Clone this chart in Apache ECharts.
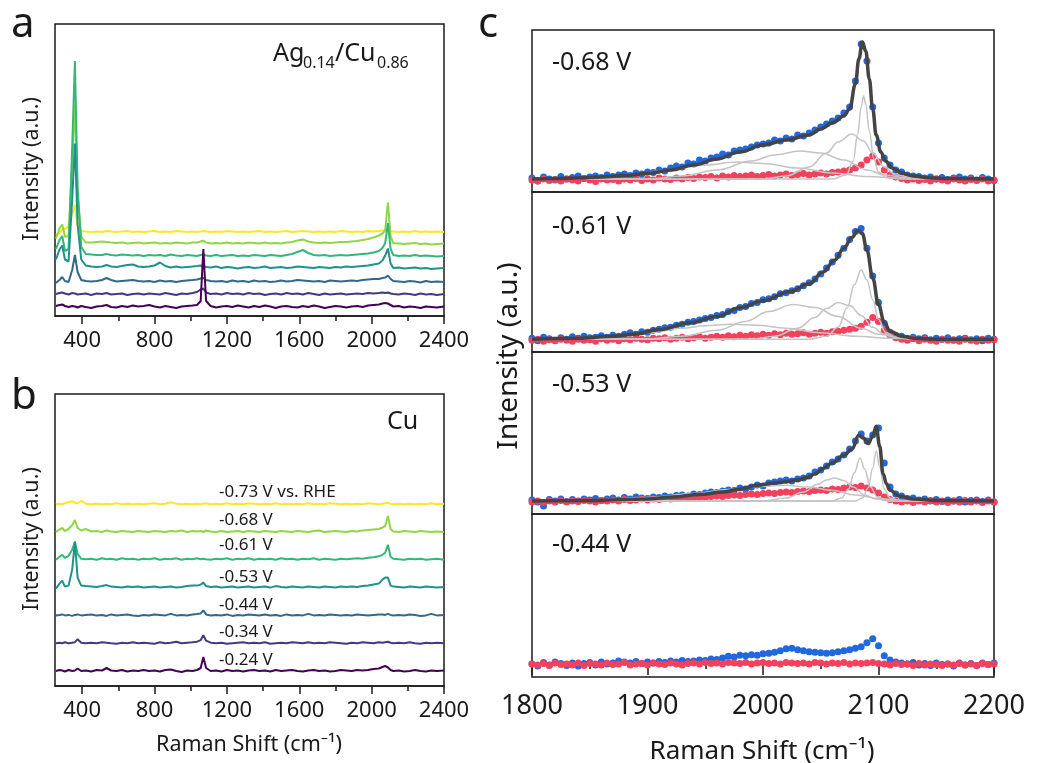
<!DOCTYPE html>
<html>
<head>
<meta charset="utf-8">
<script src="https://cdn.jsdelivr.net/npm/echarts@6/dist/echarts.min.js"></script>
<style>
  html, body { margin: 0; padding: 0; background: #fff; }
  #main { width: 1038px; height: 763px; }
</style>
</head>
<body>
<div id="main"></div>
<script>
// ---- panels a & b: shared Raman shift sampling (cm-1) ----
const xsAB = [
  255, 275, 290, 305, 325, 345, 360, 375, 395, 420,
  450, 480, 510, 535, 560, 590, 620, 650, 680, 710,
  740, 770, 800, 830, 860, 890, 920, 950, 980, 1010,
  1035, 1055, 1070, 1085, 1110, 1140, 1170, 1200, 1230, 1260,
  1290, 1320, 1350, 1380, 1410, 1440, 1470, 1500, 1530, 1560,
  1590, 1620, 1650, 1680, 1710, 1740, 1770, 1800, 1830, 1860,
  1890, 1920, 1950, 1980, 2010, 2040, 2060, 2075, 2090, 2105,
  2120, 2150, 2180, 2210, 2240, 2270, 2300, 2330, 2360, 2400
];
const majorTicksAB = [400, 800, 1200, 1600, 2000, 2400];
const minorTicksAB = [600, 1000, 1400, 1800, 2200];

// potentials, bottom trace first
const potentials = ['-0.24 V', '-0.34 V', '-0.44 V', '-0.53 V', '-0.61 V', '-0.68 V', '-0.73 V vs. RHE'];

// panel a: Ag0.14/Cu0.86 (intensity above each trace's own baseline)
const aV024 = [
  1, 2, 2.5, 1, 0, 1, 0.5, -0.5, 1, 0,
  -1, 0.5, 1, 2, 0, -0.5, 1, 0, 1.5, 0.5,
  1, 2, 0.5, -0.5, 1, 0, -1, 0.5, 1, 1.5,
  2, 6, 58, 6, 1, -0.5, 0.5, 1, 0, 1.5,
  0.5, -0.5, 1, 0, 1.5, 0.5, -1, 0.5, 1, 0,
  -0.5, 1, 0, 1.5, 0.5, -1, 0, 1, 0.5, -0.5,
  0.5, 1, 0, 1.5, 2, 2.5, 3.5, 4, 3.5, 2,
  0.5, 1, -0.5, 0.5, 0, -1, 0.5, 0, -0.5, 0.5
];
const aV034 = [
  0.5, 1.5, 2, 1, 0, 1.5, 1, 0, 0.5, 1,
  -0.5, 1, 0.5, 1.5, 0, 0.5, 1, -0.5, 0.5, 1,
  0, 1, 0.5, 0, 1.5, 0.5, -0.5, 1, 0.5, 1.5,
  2.5, 5, 6, 2, 0.5, 1, 0, 1.5, 0.5, 1,
  0, 1.5, 0.5, 1, -0.5, 0.5, 1, 0, 1.5, 0.5,
  1, 0, 1.5, 0.5, -0.5, 1, 0, 0.5, 1, 0,
  0.5, 1, 0.5, 1.5, 1, 1.5, 2, 1.5, 2, 1,
  0.5, 0, 1, 0.5, -0.5, 1, 0, 0.5, -0.5, 0.5
];
const aV044 = [
  -1, 2, 5, 1, 0, 12, 27, 10, 2, 1,
  0.5, 1, 2, 4, 2, 0.5, 1, 1.5, 2, 1,
  0.5, 1, 0, 1.5, 0.5, 1, 0, 1, 1.5, 2,
  2.5, 3.5, 4, 2, 1, 0.5, 1, 0, 1.5, 0.5,
  1, 0, 1.5, 0.5, 1, 0, 0.5, 1.5, 0.5, 1,
  2, 1.5, 1, 0.5, 1, 0, 1.5, 1, 0.5, 1,
  1.5, 1, 2, 2.5, 3, 3, 4, 4.5, 6.5, 3,
  1, 0.5, 0, 1, 0.5, -0.5, 1, 0, 0.5, 0
];
const aV053 = [
  10, 20, 24, 10, 8, 70, 126, 45, 10, 4,
  3, 2.5, 3, 4.5, 3, 2.5, 3.5, 4.5, 5, 3,
  2.5, 3, 4, 7, 3.5, 2, 3, 2, 2.5, 3,
  3.5, 4, 3.5, 2.5, 2, 3, 1.5, 2.5, 2, 1,
  2, 2.5, 1.5, 2, 3, 1.5, 2, 2.5, 1.5, 2,
  3, 2.5, 2, 1.5, 2.5, 2, 1.5, 2.5, 2, 3,
  2.5, 3, 3.5, 4, 5, 6, 9, 14, 21, 6,
  1.5, 2, 1, 1.5, 2, 1, 1.5, 0.5, 1, 1.5
];
const aV061 = [
  8, 17, 21, 6, 8, 110, 196, 70, 10, 3,
  2.5, 2, 2, 3, 2, 1.5, 2.5, 2, 1.5, 2,
  1, 2, 1.5, 2, 1, 2.5, 1.5, 1, 2, 1.5,
  1, 2, 2.5, 1.5, 1, 2, 1, 1.5, 2, 1,
  1.5, 1, 2, 1.5, 1, 2, 1.5, 1, 2, 3,
  5, 7, 4, 2, 1.5, 2, 1, 1.5, 2, 1.5,
  2, 2.5, 3, 3.5, 4.5, 6, 9, 14, 34, 8,
  2, 1, 1.5, 1, 2, 1, 1.5, 1, 0.5, 1
];
const aV068 = [
  6, 16, 20, 8, 8, 80, 140, 50, 8, 2,
  2, 2.5, 3, 2.5, 2, 1.5, 2, 1, 1.5, 2,
  1, 1.5, 2, 1, 1.5, 1, 2, 1.5, 1, 2,
  2, 3, 4, 2, 1, 1.5, 1, 2, 1, 1.5,
  1, 2, 1.5, 1, 2, 1, 1.5, 1, 2, 2.5,
  4, 5, 3, 2, 1.5, 2, 1.5, 2, 2.5, 2.5,
  3, 3.5, 4.5, 5.5, 7, 9, 11, 14, 42, 8,
  1.5, 1, 0.5, 1, 1.5, 0.5, 1, 0, 0.5, 1
];
const aV073 = [
  -3, -1, 2, 3, 6, 18, 27, 6, 1, 0.5,
  0, 0.5, 0, 1, 0.5, 0, 0.5, 1, 0, 0.5,
  0, 0.5, 1, 0, 0.5, 0, 1, 0.5, 0, 0.5,
  0, 0.5, 1, 0.5, 0, 0.5, 0, 1, 0.5, 0,
  0.5, 0, 0.5, 1, 0, 0.5, 0, 0.5, 1, 0,
  0.5, 1, 0.5, 0, 0.5, 0, 0.5, 0, 1, 0.5,
  0, 0.5, 0, 1, 0.5, 1, 1.5, 2, 2.5, 1,
  0.5, 0, 0.5, 0, 1, 0, 0.5, 0, 0.5, 0
];

// panel b: Cu
const bV024 = [
  0, 1, 0.5, -0.5, 1, 0, 0.5, 2.5, 0, 0.5,
  -0.5, 1, 0.5, 3, 0.5, 0, 1, -0.5, 0.5, 0,
  1, 0, 0.5, -0.5, 1, 1.5, 0, -1, 0.5, 0,
  1, 3, 14, 3, 0, 0.5, -0.5, 1, 0, 0.5,
  -0.5, 0.5, 1, 0, 0.5, -0.5, 1, 0, 0.5, 1,
  0, -0.5, 0.5, 1, 0, 0.5, -0.5, 0, 1, 0.5,
  0, 1, 0.5, 1, 2, 2.5, 4, 5, 3.5, 1,
  0, 0.5, -0.5, 0, 1, 0, -0.5, 0.5, 0, 0.5
];
const bV034 = [
  0, 0.5, 0, 1, 0, 0.5, 1, 4, 0.5, 0,
  0.5, 0, 1, 0.5, 0, -0.5, 0.5, 0, 1, 0,
  0.5, 0, -0.5, 1, 0, 0.5, 1.5, 0, 0.5, 1,
  1.5, 3, 8, 2.5, 0.5, 0, 0.5, -0.5, 0, 0.5,
  1, 0, 0.5, 0, 1, -0.5, 0, 0.5, 0, 1,
  0.5, 0, 1, 0, 0.5, 0, 1, 0.5, 0, -0.5,
  0.5, 0, 1, 0.5, 0, 1, 0.5, 1, 1.5, 0.5,
  0, 0.5, 0, 1, 0, -0.5, 0.5, 0, 0.5, 0
];
const bV044 = [
  0, 0.5, 1, 0, 0.5, -0.5, 0.5, 1, 0, 0.5,
  1, 0, 0.5, -0.5, 1, 0, 0.5, 1, 0, -0.5,
  0.5, 0, 1, 0.5, 0, 1.5, 0, 0.5, 0, 1,
  1.5, 2, 5, 1, 0, 0.5, 0, 1, -0.5, 0.5,
  0, 1, 0.5, 0, 1, 0, 0.5, -0.5, 1, 0,
  0.5, 0, 1.5, 0, 0.5, 0, 1, 0.5, 0, 0.5,
  0, 1, 0.5, 0, 0.5, 1, 1, 0.5, 1.5, 0.5,
  0, 0.5, 0, 1, 0.5, -0.5, 0, 1.5, 0, 0.5
];
const bV053 = [
  -1, 4, 7, 1, 2, 18, 46, 10, 2, 1.5,
  1, 0.5, 1.5, 2.5, 1, 0.5, 0, 1, 0.5, 1,
  0, 0.5, 1, 0, 0.5, 1, 0, 0.5, 1.5, 2,
  2, 3, 5, 1.5, 0.5, 1, 0, 0.5, 1, 0,
  0.5, 1, 0, 0.5, 1, 0, 1.5, 0.5, 0, 1,
  0.5, 0, 1, 0.5, 0, 1, 0.5, 0, 1, 0.5,
  1, 0.5, 1.5, 2, 3, 4, 8, 10, 10, 2,
  1, 0.5, 0, 1, 0.5, 0, 1, 0.5, 0, 0.5
];
const bV061 = [
  0, 3, 5, 2, 4, 10, 18, 6, 1, 0.5,
  1, 0, 1.5, 0.5, 1, 0, 1.5, 0.5, 1, 0,
  1, 0.5, 1.5, 0, 1, 0.5, 1.5, 0, 1, 0.5,
  1.5, 0.5, 1, 0.5, 0, 1, 0.5, 1.5, 0, 1,
  0.5, 1.5, 0, 1, 0.5, 1, 0, 1.5, 0.5, 1,
  0, 1, 0.5, 1.5, 0, 1, 0.5, 0, 1, 0.5,
  1, 1.5, 1, 2, 2.5, 3.5, 5, 7, 15, 3,
  1, 0.5, 0, 1, 0.5, 1, 0, 0.5, 1, 0
];
const bV068 = [
  0, 2.5, 4, 1, 3, 7, 12, 4, 1.5, 3,
  0.5, 1, 0, 1.5, 0.5, 0, 1, 0.5, 0, 1,
  0.5, 0, 1, 0.5, 0, 1, 0.5, 1.5, 0, 1,
  0.5, 1, 0, 1.5, 0.5, 0, 1, 0, 0.5, 1,
  0, 1, 0.5, 0, 1, 0.5, 0, 1, 0.5, 0,
  1, 0.5, 0, 1, 1.5, 0, 0.5, 1, 0.5, 0,
  1, 0.5, 1.5, 2, 2.5, 3, 4.5, 6, 16, 3,
  0.5, 0, 1, 0.5, 0, 1, 0.5, 0, 0.5, 0
];
const bV073 = [
  0, 0.5, 0, 1, 2, 3, 1.5, 1, 3.5, 0.5,
  0, 0.5, 0, 0.5, 0, 1, 0, 0.5, 0, 0.5,
  0, 0.5, 1, 0, 0.5, 2, 0.5, 0, 0.5, 0,
  0.5, 0, 0.5, 1, 0, 0.5, 0, 1, 0, 0.5,
  0, 1, 0.5, 0, 0.5, 0, 1, 0, 0.5, 0,
  0.5, 0, 1, 0, 0.5, 0, 1, 0.5, 0, 0.5,
  0, 0.5, 0, 1, 0.5, 0, 0.5, 1, 1.5, 0.5,
  0, 0.5, 0, 0.5, 0, 0.5, 0, 1, 0, 0.5
];

// ---- panel c: 1800-2200 cm-1, step 5 ----
const xsC = [
  1800, 1805, 1810, 1815, 1820, 1825, 1830, 1835, 1840, 1845,
  1850, 1855, 1860, 1865, 1870, 1875, 1880, 1885, 1890, 1895,
  1900, 1905, 1910, 1915, 1920, 1925, 1930, 1935, 1940, 1945,
  1950, 1955, 1960, 1965, 1970, 1975, 1980, 1985, 1990, 1995,
  2000, 2005, 2010, 2015, 2020, 2025, 2030, 2035, 2040, 2045,
  2050, 2055, 2060, 2065, 2070, 2075, 2080, 2085, 2090, 2095,
  2100, 2105, 2110, 2115, 2120, 2125, 2130, 2135, 2140, 2145,
  2150, 2155, 2160, 2165, 2170, 2175, 2180, 2185, 2190, 2195,
  2200
];
const cPotentials = ['-0.68 V', '-0.61 V', '-0.53 V', '-0.44 V'];

const blue068 = [
  1, -2, 2, 0, -1, 2.5, 0, 1.5, 3, 0.5,
  2, 3, 1.5, 4, 2.5, 4, 5, 3.5, 6, 5,
  7, 6.5, 9, 8, 11, 13, 12, 16, 15, 19,
  18, 21, 22, 25, 24, 28, 29, 30, 32, 34,
  35, 36, 39, 38, 41, 40, 44, 43, 46, 49,
  52, 55, 58, 61, 66, 72, 98, 135, 118, 72,
  36, 21, 14, 9, 7, 4, 3, 2.5, 1, 2,
  0, 1.5, -0.5, 1, 2, 0, 1, -1, 1.5, 0,
  -1.5
];
const red068 = [
  -1, -2, 0, -1.5, -0.5, -2, 0, -1, -2, 0.5,
  -1, -2.5, 0, -1, -0.5, -2, 0, -1, 0.5, -1.5,
  0, -1, 1, 0, -0.5, 1, 0, 1.5, 0.5, 2,
  1.5, 2.5, 1, 3, 2, 3.5, 2.5, 3, 4, 2.5,
  3.5, 4.5, 3, 4, 5, 3.5, 4.5, 5.5, 4, 5,
  6, 5, 6.5, 7, 8, 9, 11, 14, 19, 23,
  17, 9, 4, 2, 0.5, -1, 0, -1.5, -0.5, -2,
  0, -1, -2, 0, -1, -2, -0.5, -1.5, 0, -2,
  -1
];
const blue061 = [
  1, -1.5, 2, 0.5, -1, 1.5, 0, 2.5, 1, 3,
  1.5, 2, 3.5, 2, 4, 3, 5, 6.5, 5, 7.5,
  7, 9, 10, 11.5, 12, 14, 15, 17, 18, 19.5,
  21, 22, 24, 25, 28, 29, 32, 33, 36, 37,
  40, 41, 43, 46, 47, 49, 51, 54, 57, 61,
  66, 72, 78, 85, 92, 101, 109, 112, 92, 64,
  37, 16, 7, 4, 3, 1, 2, 0.5, 1.5, -0.5,
  1, 0, 1.5, -1, 0.5, 1, -0.5, 0.5, -1.5, 1,
  0
];
const red061 = [
  -1, 0, -2, -0.5, -1.5, 0, -1, -2, 0, -1,
  -0.5, -2, 0.5, -1, 0, -1.5, 0.5, -0.5, 1, 0,
  -0.5, 1, 0.5, 1.5, 0, 1, 2, 0.5, 1.5, 2.5,
  1, 2, 3, 2, 3.5, 2.5, 4, 3, 4.5, 3.5,
  5, 4, 5.5, 4.5, 6, 5, 5.5, 6.5, 5, 6,
  7, 6, 7.5, 8, 9, 10, 11, 13, 17, 22,
  18, 9, 4, 1.5, 0, -1, 0.5, -1.5, 0, -1,
  -2, 0, -1, -0.5, -2, 0, -1, -2, 0, -1,
  -0.5
];
const blue053 = [
  1, -1, -5, 1.5, 0, 2, -0.5, 1.5, 0, 2,
  1, 2.5, 0.5, 2, 3, 1, 3.5, 2, 4, 3,
  2.5, 4, 3.5, 5, 4, 5.5, 6, 5, 7, 6.5,
  8, 9, 8.5, 10, 11, 10.5, 13, 12, 14, 16,
  15, 18, 19, 20, 21, 20, 22, 23, 25, 29,
  31, 35, 39, 42, 46, 52, 60, 67, 60, 66,
  73, 38, 14, 7, 5, 2.5, 3, 1, 2, 0,
  1.5, -0.5, 1, 0, 1.5, -1, 0.5, 1, -0.5, 1,
  -1
];
const red053 = [
  -1, 0, -1.5, 0, -1, 0.5, -1, 0, -0.5, 0.5,
  0, -1, 0.5, 0, 1, 0, 1.5, 0.5, 1, 2,
  1, 2, 1.5, 2.5, 2, 3, 2.5, 3.5, 3, 4,
  3.5, 4.5, 5, 4.5, 5.5, 6, 5.5, 6.5, 7, 6.5,
  7.5, 8, 7.5, 8.5, 9, 8.5, 9.5, 10, 9.5, 10.5,
  11, 10.5, 12, 11.5, 13, 14, 13.5, 15, 13, 11,
  8, 4, 1.5, 0, -1, 0, -1.5, 0, -1, 0.5,
  -1, 0, -1.5, 0, -1, 0.5, -1, 0, -1.5, 0,
  -1
];
const blue044 = [
  0, -2, 1.5, -1, 2, 0.5, -1.5, 1, -2, 0.5,
  1.5, -1, 2, 0, 1, 3, 2, 1, 2.5, 0.5,
  2, 1, 2.5, 1.5, 3, 2, 3.5, 2.5, 3, 4,
  3.5, 5, 4.5, 6, 7.5, 7, 8.5, 8, 9, 8.5,
  10, 10.5, 11.5, 13, 15, 15.5, 14, 13, 12, 11.5,
  11, 10.5, 11, 12, 13, 14, 15.5, 17, 21, 25,
  18, 8, 4, 2, 1, 0, 1.5, -1, 0.5, -1.5,
  1, -0.5, 0, -2, 1, -1, 0.5, -1.5, 1, -0.5,
  1
];
const red044 = [
  0, -1, 0.5, -1.5, 1, -0.5, 0, -1, 1, -1.5,
  0.5, 0, -1, 1, -0.5, 0, 1.5, -1, 0, 0.5,
  -1, 1, 0, -0.5, 1, 0, -1, 0.5, 1, 0,
  1.5, 0.5, 1, 0, 1.5, 1, 0.5, 1.5, 0, 1,
  1.5, 0.5, 1, 0, 1.5, 1, 0.5, 1, 0, 1.5,
  1, 0, 1, 0.5, 1.5, 0, 1, 0.5, 1, 1.5,
  0.5, 0, -1, 0.5, -0.5, 0, -1.5, 0.5, -1, 0,
  -0.5, -1.5, 0, -1, 0.5, -1, 0, -1.5, 0.5, -0.5,
  0
];

// cumulative fits [shift, intensity]
const fit068 = [[1800, 0], [1820, 0.5], [1840, 1], [1860, 2], [1880, 3.5], [1900, 5.5], [1920, 9], [1940, 14], [1960, 20], [1980, 27], [2000, 34], [2020, 39], [2040, 44], [2050, 50], [2060, 56], [2070, 63], [2075, 70], [2080, 95], [2083, 120], [2086, 137], [2089, 128], [2092, 100], [2095, 70], [2098, 44], [2102, 27], [2106, 18], [2112, 11], [2120, 6], [2130, 3], [2145, 1], [2160, 0.5], [2200, 0]];
const fit061 = [[1800, 0], [1840, 1], [1870, 3], [1888, 5], [1910, 9.5], [1937, 16.7], [1960, 23], [1980, 31.7], [2000, 39], [2023, 48], [2040, 56], [2052, 68], [2062, 80], [2070, 92], [2077, 103], [2082, 110], [2086, 107], [2090, 90], [2095, 62], [2100, 35], [2105, 17], [2110, 8], [2120, 3], [2130, 1], [2150, 0], [2200, 0]];
const fit053 = [[1800, 0], [1850, 0.5], [1900, 2], [1922, 4], [1945, 6.5], [1966, 9], [1980, 12], [1995, 15.7], [2010, 18], [2018, 19], [2030, 21], [2038, 23.3], [2045, 27], [2052, 32.4], [2060, 38], [2070, 45.7], [2077, 52], [2083, 65.7], [2087, 63], [2091, 57.4], [2095, 65], [2098, 74.7], [2101, 55], [2104, 27], [2107, 17], [2110, 10.7], [2118, 5], [2130, 2], [2150, 0.5], [2200, 0]];

// fitted components
const comp068a = [[1800, 0], [1830, 0], [1860, 2], [1890, 5], [1920, 9.5], [1950, 14], [1977, 17], [2000, 15.5], [2030, 11], [2060, 6], [2090, 2.5], [2120, 0.5], [2150, 0], [2200, 0]];
const comp068b = [[1800, 0], [1900, 0], [1930, 3], [1960, 9], [1990, 18], [2010, 24], [2032, 28], [2050, 26], [2070, 19], [2090, 9], [2105, 4], [2125, 1], [2150, 0], [2200, 0]];
const comp068c = [[1800, 0], [2000, 0], [2020, 3], [2040, 12], [2055, 26], [2065, 37], [2077, 45], [2087, 38], [2095, 26], [2105, 12], [2115, 4], [2130, 1], [2150, 0], [2200, 0]];
const comp068d = [[1800, 0], [2060, 0], [2072, 4], [2078, 18], [2082, 45], [2085, 72], [2087, 83], [2089, 75], [2092, 48], [2096, 20], [2100, 7], [2106, 2], [2120, 0], [2200, 0]];
const comp061a = [[1800, 0], [1840, 1], [1870, 3], [1900, 6.5], [1930, 11], [1950, 13.5], [1972, 15], [1995, 14], [2020, 11], [2050, 6.5], [2080, 3], [2110, 1], [2150, 0], [2200, 0]];
const comp061b = [[1800, 0], [1900, 0.5], [1930, 3], [1960, 9], [1985, 18], [2005, 28], [2026, 35], [2045, 32], [2065, 23], [2085, 11], [2100, 5], [2120, 1], [2150, 0], [2200, 0]];
const comp061c = [[1800, 0], [1990, 0], [2010, 3], [2030, 11], [2045, 22], [2055, 31], [2065, 37], [2075, 34], [2085, 24], [2095, 12], [2105, 5], [2120, 1], [2140, 0], [2200, 0]];
const comp061d = [[1800, 0], [2040, 0], [2055, 3], [2065, 12], [2073, 32], [2079, 55], [2085, 70], [2090, 60], [2095, 40], [2100, 20], [2106, 7], [2115, 2], [2130, 0], [2200, 0]];
const comp053a = [[1800, 0], [1850, 1], [1900, 3.5], [1940, 7.5], [1970, 11.5], [1995, 14.5], [2018, 15.7], [2040, 14], [2060, 10.5], [2080, 6], [2100, 2.5], [2120, 0.5], [2150, 0], [2200, 0]];
const comp053b = [[1800, 0], [2000, 0], [2020, 3], [2035, 9], [2048, 17], [2055, 21], [2062, 23], [2070, 20.5], [2078, 14], [2088, 6], [2098, 2], [2110, 0], [2200, 0]];
const comp053c = [[1800, 0], [2060, 0], [2068, 3], [2074, 12], [2079, 28], [2084, 43], [2088, 32], [2093, 14], [2099, 4], [2108, 0.5], [2120, 0], [2200, 0]];
const comp053d = [[1800, 0], [2080, 0], [2086, 3], [2091, 13], [2095, 33], [2098, 50], [2101, 34], [2105, 12], [2110, 3], [2118, 0.5], [2130, 0], [2200, 0]];

// ---------------------------------------------------------------
const FONT = '"Noto Sans", "DejaVu Sans", sans-serif';
const INK = '#1a1a1a';
const viridis = ['#440154', '#443983', '#31688e', '#21918c', '#35b779', '#90d743', '#fde725'];
const plain = (v) => String(v);

const chartDom = document.getElementById('main');
const myChart = echarts.init(chartDom);

const boxed = { show: true, borderColor: INK, borderWidth: 1.5, backgroundColor: 'transparent' };
const grids = [
  { left: 55, top: 24, width: 389, height: 292, ...boxed },
  { left: 55, top: 394, width: 389, height: 292, ...boxed },
  { left: 532, top: 30, width: 462, height: 162, ...boxed },
  { left: 532, top: 192, width: 462, height: 160, ...boxed },
  { left: 532, top: 352, width: 462, height: 162, ...boxed },
  { left: 532, top: 514, width: 462, height: 163, ...boxed }
];

const xAxes = [];
const yAxes = [];
const series = [];

// panels a and b
function broadAxes(gridIndex) {
  return [
    {
      type: 'value', gridIndex, min: 250, max: 2400, position: 'bottom',
      axisLine: { show: true, lineStyle: { color: INK, width: 1.5 } },
      axisTick: { show: true, length: 8, customValues: majorTicksAB, lineStyle: { color: INK, width: 1.5 } },
      axisLabel: { show: true, customValues: majorTicksAB, formatter: plain, margin: 14, fontSize: 22, color: INK, fontFamily: FONT },
      splitLine: { show: false }
    },
    {
      type: 'value', gridIndex, min: 250, max: 2400, position: 'bottom',
      axisLine: { show: false },
      axisTick: { show: true, length: 5, customValues: minorTicksAB, lineStyle: { color: INK, width: 1.5 } },
      axisLabel: { show: false },
      splitLine: { show: false }
    }
  ];
}

const panelAB = [
  { grid: 0, traces: [aV024, aV034, aV044, aV053, aV061, aV068, aV073], base: 9, step: 12.5 },
  { grid: 1, traces: [bV024, bV034, bV044, bV053, bV061, bV068, bV073], base: 15, step: 27.8 }
];
panelAB.forEach((p) => {
  const xIdx = xAxes.length;
  xAxes.push(...broadAxes(p.grid));
  const yIdx = yAxes.length;
  yAxes.push({ type: 'value', gridIndex: p.grid, min: 0, max: 292, show: false });
  // top trace first so the lower ones are painted over it
  for (let i = p.traces.length - 1; i >= 0; i--) {
    const offset = p.base + i * p.step;
    series.push({
      type: 'line', name: potentials[i], xAxisIndex: xIdx, yAxisIndex: yIdx,
      data: xsAB.map((x, k) => [x, p.traces[i][k] + offset]),
      showSymbol: false, symbol: 'none', silent: true,
      lineStyle: { color: viridis[i], width: 2 }
    });
  }
});

// panel c
const panelC = [
  { blue: blue068, red: red068, fit: fit068, comps: [comp068a, comp068b, comp068c, comp068d] },
  { blue: blue061, red: red061, fit: fit061, comps: [comp061a, comp061b, comp061c, comp061d] },
  { blue: blue053, red: red053, fit: fit053, comps: [comp053a, comp053b, comp053c, comp053d] },
  { blue: blue044, red: red044, fit: null, comps: [] }
];
panelC.forEach((p, j) => {
  const g = 2 + j;
  const last = j === panelC.length - 1;
  const xIdx = xAxes.length;
  xAxes.push({
    type: 'value', gridIndex: g, min: 1800, max: 2200, interval: 100, show: last,
    axisLine: { show: true, lineStyle: { color: INK, width: 1.5 } },
    axisTick: { show: true, length: 11, lineStyle: { color: INK, width: 1.5 } },
    minorTick: { show: true, splitNumber: 2, length: 5, lineStyle: { color: INK, width: 1.5 } },
    axisLabel: { margin: 16, fontSize: 27, formatter: plain, color: INK, fontFamily: FONT, showMinLabel: true, showMaxLabel: true },
    splitLine: { show: false }
  });
  const yIdx = yAxes.length;
  yAxes.push({ type: 'value', gridIndex: g, min: -13, max: 149, show: false });

  const scat = (vals, color) => ({
    type: 'scatter', xAxisIndex: xIdx, yAxisIndex: yIdx, silent: true,
    symbol: 'circle', symbolSize: 7,
    itemStyle: { color, opacity: 1 },
    data: xsC.map((x, k) => [x, vals[k]])
  });
  series.push(scat(p.blue, '#1f68e0'));
  series.push(scat(p.red, '#f3405c'));
  p.comps.forEach((c) => series.push({
    type: 'line', xAxisIndex: xIdx, yAxisIndex: yIdx, data: c, silent: true,
    showSymbol: false, symbol: 'none', smooth: 0.4, smoothMonotone: 'x',
    lineStyle: { color: '#c4c4c4', width: 1.5 }
  }));
  if (p.fit) {
    series.push({
      type: 'line', xAxisIndex: xIdx, yAxisIndex: yIdx, data: p.fit, silent: true,
      showSymbol: false, symbol: 'none', smooth: 0.4, smoothMonotone: 'x',
      lineStyle: { color: '#444444', width: 3.5 }
    });
  }
});

// texts
const txt = (text, x, y, size, extra) => ({
  type: 'text', x, y, silent: true,
  style: Object.assign({ text, fill: INK, font: size + 'px ' + FONT, align: 'left', verticalAlign: 'middle' }, extra || {})
});
const graphic = [
  txt('a', 11, 25, 42),
  txt('b', 11, 397, 42),
  txt('c', 478, 25, 42),
  txt('Ag', 273, 54, 25),
  txt('0.14', 303, 63.5, 16),
  txt('/Cu', 335, 54, 25),
  txt('0.86', 377, 63.5, 16),
  txt('Cu', 387, 422, 25),
  txt('Raman Shift (cm\u207B\u00B9)', 249, 745, 21.5, { align: 'center' }),
  txt('Raman Shift (cm\u207B\u00B9)', 762, 752, 26, { align: 'center' }),
  Object.assign(txt('Intensity (a.u.)', 32, 169, 21.5, { align: 'center' }), { rotation: Math.PI / 2 }),
  Object.assign(txt('Intensity (a.u.)', 32, 539, 21.5, { align: 'center' }), { rotation: Math.PI / 2 }),
  Object.assign(txt('Intensity (a.u.)', 509, 356, 28, { align: 'center' }), { rotation: Math.PI / 2 })
];
const bLabelY = [660, 631.7, 605, 576.7, 545, 520, 491.7];
potentials.forEach((p, i) => graphic.push(txt(p, 219, bLabelY[i], 17)));
const cLabelY = [63, 226.7, 385, 545];
cPotentials.forEach((p, i) => graphic.push(txt(p, 552, cLabelY[i], 25)));

const option = {
  animation: false,
  backgroundColor: '#ffffff',
  grid: grids,
  xAxis: xAxes,
  yAxis: yAxes,
  series,
  graphic
};

option && myChart.setOption(option);
</script>
</body>
</html>
